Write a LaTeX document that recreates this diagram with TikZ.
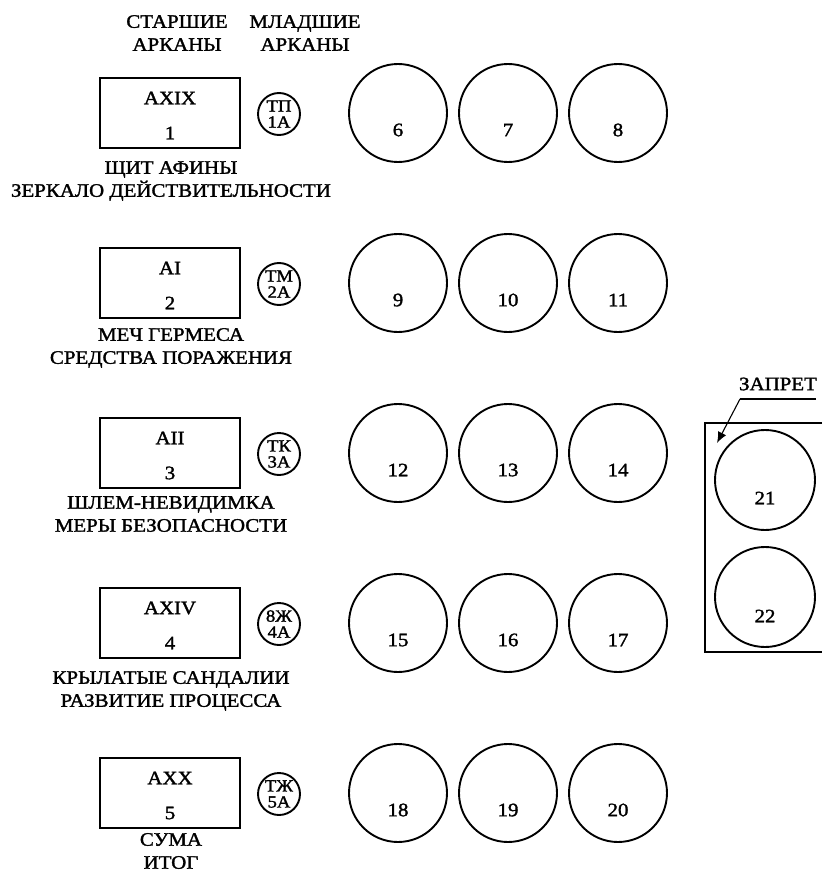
\documentclass[tikz,border=0pt]{standalone}
\usepackage{fontspec}
\setmainfont{Liberation Serif}[FakeStretch=1.1, FakeBold=1.6]
\usetikzlibrary{arrows.meta}
\tikzset{
  every node/.style={inner sep=0pt, outer sep=0pt},
  txt/.style={font=\fontsize{19}{23}\selectfont, align=center},
  numtxt/.style={font=\fontsize{19}{23}\selectfont},
  bigc/.style={circle, draw, line width=1.9pt, minimum size=98pt},
  smallc/.style={circle, draw, line width=1.9pt, minimum size=42pt, align=center, font=\fontsize{17}{17}\selectfont},
  arcbox/.style={draw, line width=1.9pt, minimum width=140pt, minimum height=70pt},
  frame/.style={line width=1.9pt},
}
\begin{document}
\begin{tikzpicture}[x=1pt, y=-1pt]
\useasboundingbox (0,0) rectangle (822,872);
% headers
\node[txt] (h1) at (177,33) {СТАРШИЕ\\АРКАНЫ};
\node[txt] (h2) at (305,33) {МЛАДШИЕ\\АРКАНЫ};
% rows
\foreach \r/\y/\top/\num/\sa/\sb/\ca/\cb/\cc/\ly/\la/\lb in {
  1/113/AXIX/1/ТП/1А/6/7/8/181/ЩИТ АФИНЫ/ЗЕРКАЛО ДЕЙСТВИТЕЛЬНОСТИ,
  2/283/AI/2/ТМ/2А/9/10/11/348/МЕЧ ГЕРМЕСА/СРЕДСТВА ПОРАЖЕНИЯ,
  3/453/AII/3/ТК/3А/12/13/14/514/ШЛЕМ-НЕВИДИМКА/МЕРЫ БЕЗОПАСНОСТИ,
  4/623/AXIV/4/8Ж/4А/15/16/17/691/КРЫЛАТЫЕ САНДАЛИИ/РАЗВИТИЕ ПРОЦЕССА,
  5/793/AXX/5/ТЖ/5А/18/19/20/851/СУМА/ИТОГ}{
  \node[arcbox] (r\r) at (170,\y) {};
  \node[txt] (rt\r) at ([yshift=15pt]r\r.center) {\top};
  \node[txt] (rn\r) at ([yshift=-20pt]r\r.center) {\num};
  \node[smallc] (s\r) at (279,\y+1) {\sa\\[-1pt]\sb};
  \node[bigc] (c\ca) at (398,\y) {};
  \node[bigc] (c\cb) at (508,\y) {};
  \node[bigc] (c\cc) at (618,\y) {};
  \node[numtxt] (n\ca) at ([yshift=-17pt]c\ca.center) {\ca};
  \node[numtxt] (n\cb) at ([yshift=-17pt]c\cb.center) {\cb};
  \node[numtxt] (n\cc) at ([yshift=-17pt]c\cc.center) {\cc};
  \node[txt] (l\r) at (171,\ly) {\la\\\lb};
}
% forbidden zone
\coordinate (zb1) at (822,423);
\coordinate (zb2) at (705,423);
\coordinate (zb3) at (705,652);
\coordinate (zb4) at (822,652);
\draw[frame] (zb1) -- (zb2) -- (zb3) -- (zb4);
\node[bigc, minimum size=100pt] (c21) at (765,480) {};
\node[bigc, minimum size=100pt] (c22) at (765,597) {};
\node[numtxt] (n21) at ([yshift=-18pt]c21.center) {21};
\node[numtxt] (n22) at ([yshift=-19pt]c22.center) {22};
\node[txt] (zl) at (778,384) {ЗАПРЕТ};
\coordinate (zu1) at (740,399);
\coordinate (zu2) at (816,399);
\coordinate (zt) at (717,443);
\draw[line width=1.1pt] (zu2) -- (zu1);
\draw[line width=1.1pt, -{Latex[length=11pt,width=9pt]}] (zu1) -- (zt);
\end{tikzpicture}
\end{document}
